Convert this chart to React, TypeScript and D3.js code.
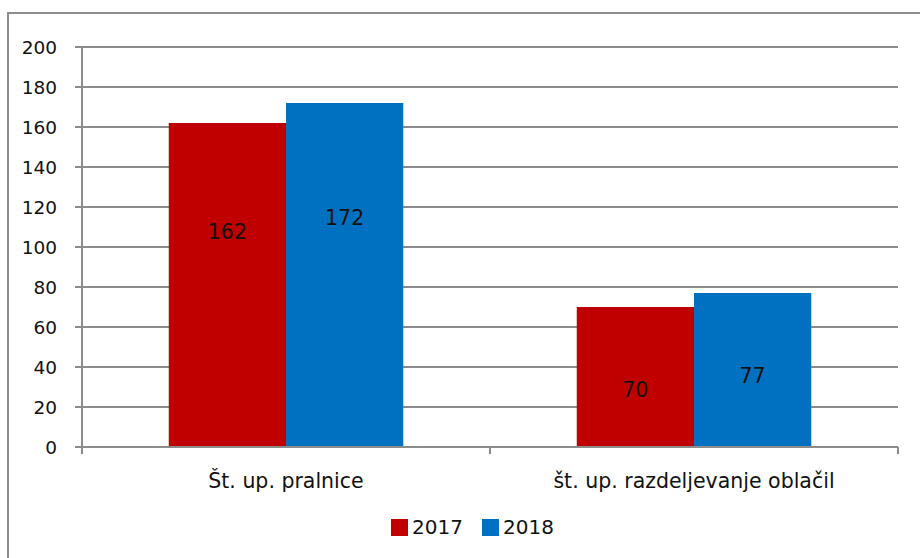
import React, { useEffect, useRef } from "react";
import * as d3 from "d3";

const categories = ["Št. up. pralnice", "št. up. razdeljevanje oblačil"];
const seriesNames = ["2017", "2018"];
const values2017 = [162, 70];
const values2018 = [172, 77];
const yTicks = [0, 20, 40, 60, 80, 100, 120, 140, 160, 180, 200];
const colors = ["#C00000", "#0070C0"];

const W = 920;
const H = 558;
const margin = { top: 47, left: 82, right: 22, bottom: 111 };
const font = "'DejaVu Sans', Verdana, sans-serif";

export default function App() {
  const ref = useRef<SVGSVGElement>(null);

  useEffect(() => {
    const svg = d3.select(ref.current);
    svg.selectAll("*").remove();

    const x0 = margin.left;
    const x1 = W - margin.right;
    const yBottom = H - margin.bottom;

    // outer frame
    svg
      .append("rect")
      .attr("x", 8)
      .attr("y", 13)
      .attr("width", 930)
      .attr("height", 560)
      .attr("fill", "white")
      .attr("stroke", "#8c8c8c")
      .attr("stroke-width", 2);

    const y = d3.scaleLinear().domain([0, 200]).range([yBottom, margin.top]);
    const xCat = d3.scaleBand<string>().domain(categories).range([x0, x1]);
    const xSer = d3
      .scaleBand<string>()
      .domain(seriesNames)
      .range([0, xCat.bandwidth()])
      .paddingOuter(0.74)
      .paddingInner(0);

    // gridlines
    svg
      .append("g")
      .selectAll("line")
      .data(yTicks.filter((t) => t > 0))
      .join("line")
      .attr("x1", x0 - 7)
      .attr("x2", x1)
      .attr("y1", (d) => y(d))
      .attr("y2", (d) => y(d))
      .attr("stroke", "#8c8c8c")
      .attr("stroke-width", 2);

    // y tick labels
    svg
      .append("g")
      .selectAll("text")
      .data(yTicks)
      .join("text")
      .attr("x", 57)
      .attr("y", (d) => y(d))
      .attr("dy", "0.36em")
      .attr("text-anchor", "end")
      .attr("font-family", font)
      .attr("font-size", 18.5)
      .attr("fill", "#111")
      .text((d) => d);

    const series = [values2017, values2018];
    // label anchor as a fraction of bar value, [series][category]
    const labelFrac = [
      [0.664, 0.407],
      [0.666, 0.461],
    ];

    series.forEach((vals, si) => {
      const g = svg.append("g");
      g.selectAll("rect")
        .data(vals)
        .join("rect")
        .attr("x", (_, i) => xCat(categories[i])! + xSer(seriesNames[si])!)
        .attr("y", (d) => y(d))
        .attr("width", xSer.bandwidth())
        .attr("height", (d) => yBottom - y(d))
        .attr("fill", colors[si]);
      g.selectAll("text")
        .data(vals)
        .join("text")
        .attr(
          "x",
          (_, i) =>
            xCat(categories[i])! + xSer(seriesNames[si])! + xSer.bandwidth() / 2
        )
        .attr("y", (d, i) => y(d * labelFrac[si][i]))
        .attr("dy", "0.36em")
        .attr("text-anchor", "middle")
        .attr("font-family", font)
        .attr("font-size", 20.5)
        .attr("fill", "#111")
        .text((d) => d);
    });

    // x axis
    svg
      .append("line")
      .attr("x1", x0 - 7)
      .attr("x2", x1)
      .attr("y1", yBottom)
      .attr("y2", yBottom)
      .attr("stroke", "#8c8c8c")
      .attr("stroke-width", 2);
    // y axis
    svg
      .append("line")
      .attr("x1", x0)
      .attr("x2", x0)
      .attr("y1", margin.top)
      .attr("y2", yBottom + 7)
      .attr("stroke", "#8c8c8c")
      .attr("stroke-width", 2);
    // category ticks
    svg
      .append("g")
      .selectAll("line")
      .data([...categories.map((c) => xCat(c)!), x1])
      .join("line")
      .attr("x1", (d) => d)
      .attr("x2", (d) => d)
      .attr("y1", yBottom)
      .attr("y2", yBottom + 7)
      .attr("stroke", "#8c8c8c")
      .attr("stroke-width", 2);

    svg
      .append("g")
      .selectAll("text")
      .data(categories)
      .join("text")
      .attr("x", (d) => xCat(d)! + xCat.bandwidth() / 2)
      .attr("y", yBottom + 34)
      .attr("dy", "0.36em")
      .attr("text-anchor", "middle")
      .attr("font-family", font)
      .attr("font-size", 20.5)
      .attr("fill", "#111")
      .text((d) => d);

    // legend
    const legend = svg.append("g");
    const legendX = [391, 482];
    seriesNames.forEach((name, i) => {
      legend
        .append("rect")
        .attr("x", legendX[i])
        .attr("y", 519)
        .attr("width", 17)
        .attr("height", 17)
        .attr("fill", colors[i]);
      legend
        .append("text")
        .attr("x", legendX[i] + 21)
        .attr("y", 527)
        .attr("dy", "0.36em")
        .attr("font-family", font)
        .attr("font-size", 20)
        .attr("fill", "#111")
        .text(name);
    });
  }, []);

  return (
    <svg
      ref={ref}
      width={W}
      height={H}
      style={{ position: "absolute", left: 0, top: 0, display: "block" }}
    />
  );
}
